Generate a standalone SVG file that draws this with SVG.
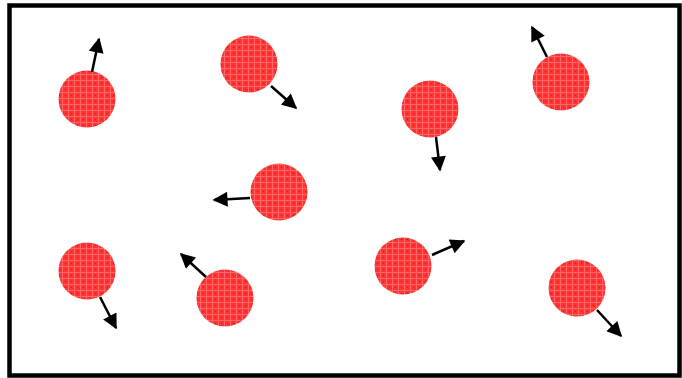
<svg xmlns="http://www.w3.org/2000/svg" width="682" height="378" viewBox="0 0 682 378">
<defs>
<pattern id="tex" width="6" height="6" patternUnits="userSpaceOnUse">
<rect width="6" height="6" fill="#ff3333"/>
<rect x="0" y="2" width="6" height="1" fill="#ff6666"/>
<rect x="2" y="0" width="1" height="6" fill="#ff6666"/>
<rect x="5" y="5" width="1" height="1" fill="#dd1111"/>
</pattern>
<marker id="ah" viewBox="0 0 10 10" refX="9" refY="5" markerWidth="7" markerHeight="6" markerUnits="strokeWidth" orient="auto">
<path d="M0,0 L10,5 L0,10 z" fill="#000"/>
</marker>
</defs>
<style>
.p{fill:url(#tex);}
.a{stroke:#000;stroke-width:2.5;fill:none;marker-end:url(#ah);}
</style>
<rect x="9.5" y="5.5" width="670" height="370" fill="#fff" stroke="#000" stroke-width="4.5"/>
<g id="particle1"><circle class="p" cx="87" cy="99" r="28.5"/></g>
<g id="particle2"><circle class="p" cx="249" cy="64" r="28.5"/></g>
<g id="particle3"><circle class="p" cx="430" cy="109" r="28.5"/></g>
<g id="particle4"><circle class="p" cx="561" cy="82" r="28.5"/></g>
<g id="particle5"><circle class="p" cx="279" cy="192" r="28.5"/></g>
<g id="particle6"><circle class="p" cx="87" cy="271" r="28.5"/></g>
<g id="particle7"><circle class="p" cx="225" cy="298" r="28.5"/></g>
<g id="particle8"><circle class="p" cx="403" cy="266" r="28.5"/></g>
<g id="particle9"><circle class="p" cx="577" cy="288" r="28.5"/></g>
<g id="connectors">
<line class="a" x1="92" y1="72" x2="99" y2="39"/>
<line class="a" x1="271" y1="86" x2="296" y2="108"/>
<line class="a" x1="436" y1="137" x2="440" y2="170"/>
<line class="a" x1="547" y1="57" x2="532" y2="27"/>
<line class="a" x1="250" y1="198" x2="214" y2="200"/>
<line class="a" x1="100" y1="297" x2="116" y2="328"/>
<line class="a" x1="206" y1="277" x2="181" y2="254"/>
<line class="a" x1="432" y1="255" x2="464" y2="241"/>
<line class="a" x1="597" y1="310" x2="621" y2="336"/>
</g>
</svg>
